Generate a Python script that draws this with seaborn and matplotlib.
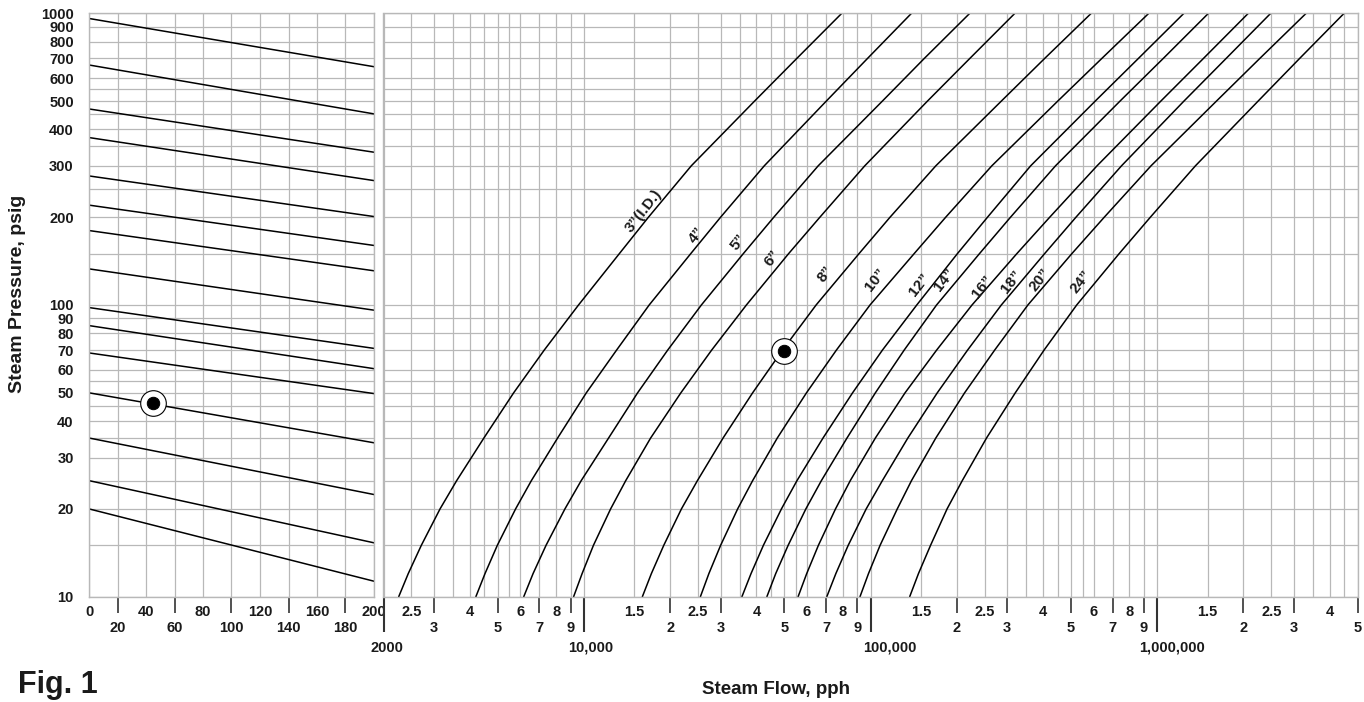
import numpy as np
import pandas as pd
import matplotlib
matplotlib.use("Agg")
import matplotlib.pyplot as plt
import matplotlib.transforms as mtrans
import seaborn as sns

# ---------------- data ----------------
# left panel: straight (semi-log) lines, pressure at x=0 and x=200
left_x = [0, 200]
left_start = [960, 665, 470, 375, 277, 220, 180, 133, 98, 85, 68.5, 50, 35, 25, 20]
left_end = [656, 452, 334, 267, 201, 160, 131, 96, 71, 60.5, 49.7, 33.7, 22.4, 15.3, 11.3]

# right panel: steam flow (pph) vs pressure (psig) per pipe size
pressures = [10, 12, 15, 20, 25, 35, 50, 70, 100, 150, 200, 300, 500, 700, 1000]
pipe_labels = ["3\u201d(I.D.)", "4\u201d", "5\u201d", "6\u201d", "8\u201d", "10\u201d",
               "12\u201d", "14\u201d", "16\u201d", "18\u201d", "20\u201d", "24\u201d"]
flow_3 = [2260, 2440, 2710, 3150, 3600, 4480, 5690, 7270, 9580, 13300, 16800, 23700, 39400, 55300, 79400]
flow_4 = [4200, 4520, 4990, 5780, 6560, 8100, 10200, 13000, 16900, 23600, 30000, 42600, 70100, 97600, 139000]
flow_5 = [6170, 6650, 7380, 8590, 9790, 12200, 15400, 19600, 25700, 36000, 46000, 65700, 110000, 154000, 222000]
flow_6 = [9210, 9860, 10800, 12400, 14000, 17100, 21800, 27900, 36900, 51800, 66600, 95500, 158000, 222000, 319000]
flow_8 = [16000, 17200, 19000, 21900, 24900, 30600, 38800, 49300, 64600, 91200, 117000, 169000, 286000, 405000, 589000]
flow_10 = [25500, 27300, 30000, 34400, 38800, 47300, 59800, 76000, 99600, 142000, 183000, 265000, 450000, 641000, 935000]
flow_12 = [35600, 38300, 42300, 48900, 55400, 68300, 86600, 110000, 145000, 201000, 256000, 362000, 608000, 860000, 1240000]
flow_14 = [43500, 46700, 51600, 59500, 67400, 82800, 104000, 131000, 170000, 240000, 308000, 442000, 742000, 1050000, 1510000]
flow_16 = [55900, 59900, 65800, 75500, 85000, 104000, 132000, 170000, 226000, 324000, 422000, 617000, 1030000, 1450000, 2080000]
flow_18 = [70400, 75700, 83600, 96600, 110000, 135000, 171000, 218000, 286000, 405000, 521000, 751000, 1240000, 1740000, 2490000]
flow_20 = [91900, 98400, 108000, 124000, 139000, 169000, 213000, 271000, 354000, 504000, 654000, 952000, 1610000, 2280000, 3310000]
flow_24 = [137000, 147000, 162000, 185000, 209000, 254000, 320000, 403000, 524000, 737000, 947000, 1360000, 2250000, 3140000, 4490000]
flows = [flow_3, flow_4, flow_5, flow_6, flow_8, flow_10, flow_12, flow_14,
         flow_16, flow_18, flow_20, flow_24]

# example points
left_point = (44.7, 46)
right_point = (50000, 69.5)

# axis ticks / labels
y_grid = [10, 15, 20, 25, 30, 35, 40, 45, 50, 55, 60, 70, 80, 90, 100,
          150, 200, 250, 300, 350, 400, 450, 500, 550, 600, 700, 800, 900, 1000]
y_labeled = [10, 20, 30, 40, 50, 60, 70, 80, 90, 100, 200, 300, 400, 500, 600, 700,
             800, 900, 1000]
left_row1 = [0, 40, 80, 120, 160, 200]
left_row2 = [20, 60, 100, 140, 180]
mant_grid = [1, 1.5, 2, 2.5, 3, 3.5, 4, 4.5, 5, 5.5, 6, 7, 8, 9]
flow_row1 = [2500, 4000, 6000, 8000, 15000, 25000, 40000, 60000, 80000,
             150000, 250000, 400000, 600000, 800000, 1500000, 2500000, 4000000]
flow_row1_text = ["2.5", "4", "6", "8", "1.5", "2.5", "4", "6", "8",
                  "1.5", "2.5", "4", "6", "8", "1.5", "2.5", "4"]
flow_row2 = [3000, 5000, 7000, 9000, 20000, 30000, 50000, 70000, 90000,
             200000, 300000, 500000, 700000, 900000, 2000000, 3000000, 5000000]
flow_row2_text = ["3", "5", "7", "9", "2", "3", "5", "7", "9",
                  "2", "3", "5", "7", "9", "2", "3", "5"]
flow_decades = [2000, 10000, 100000, 1000000]
flow_decade_text = ["2000", "10,000", "100,000", "1,000,000"]

# ---------------- style ----------------
sns.set_theme(style="white")
plt.rcParams["font.family"] = ["Liberation Sans", "DejaVu Sans"]
plt.rcParams["font.weight"] = "bold"

W, H = 1364, 702
fig = plt.figure(figsize=(W / 100, H / 100), dpi=100)
fig.patch.set_facecolor("white")

top_px, bot_px = 13.3, 596.7
TXT = "#1a1a1a"


def add_ax(x0, x1):
    return fig.add_axes([x0 / W, 1 - bot_px / H, (x1 - x0) / W, (bot_px - top_px) / H])


ax1 = add_ax(89, 374)
ax2 = add_ax(383.5, 1357.5)

GRID = "#b8b8b8"
for ax in (ax1, ax2):
    ax.set_yscale("log")
    ax.set_ylim(10, 1000)
    for s in ax.spines.values():
        s.set_color(GRID)
        s.set_linewidth(1.0)

# ---- left panel ----
rows = []
for i, (a, b) in enumerate(zip(left_start, left_end)):
    rows.append({"x": left_x[0], "p": a, "line": i})
    rows.append({"x": left_x[1], "p": b, "line": i})
dfl = pd.DataFrame(rows)
sns.lineplot(data=dfl, x="x", y="p", units="line", estimator=None, color="black",
             lw=1.1, ax=ax1, legend=False)
ax1.set_xlim(0, 200)
ax1.set_xticks(list(range(0, 201, 20)))
ax1.set_xticklabels([])
ax1.set_yticks(y_grid)
ax1.set_yticklabels([str(v) if v in y_labeled else "" for v in y_grid])
ax1.yaxis.set_minor_locator(matplotlib.ticker.NullLocator())
ax1.tick_params(axis="both", length=0)
ax1.tick_params(axis="y", pad=11, labelsize=10.5)
for lab in ax1.get_yticklabels():
    lab.set_fontweight("bold")
    lab.set_color(TXT)
ax1.grid(True, which="major", color=GRID, lw=0.9)
ax1.set_xlabel("")
ax1.set_ylabel("")

# ---- right panel ----
rows = []
for lab, fl in zip(pipe_labels, flows):
    for p, f in zip(pressures, fl):
        rows.append({"flow": f, "p": p, "pipe": lab})
dfr = pd.DataFrame(rows)
sns.lineplot(data=dfr, x="flow", y="p", units="pipe", estimator=None, color="black",
             lw=1.1, ax=ax2, legend=False, sort=False)
ax2.set_xscale("log")
ax2.set_xlim(2000, 5e6)
xgrid = [m * 10 ** k for k in range(3, 7) for m in mant_grid]
xgrid = [v for v in xgrid if 2000 <= v <= 5e6]
ax2.set_xticks(xgrid)
ax2.xaxis.set_minor_locator(matplotlib.ticker.NullLocator())
ax2.set_xticklabels([])
ax2.set_yticks(y_grid)
ax2.set_yticklabels([])
ax2.yaxis.set_minor_locator(matplotlib.ticker.NullLocator())
ax2.tick_params(axis="both", length=0)
ax2.grid(True, which="major", color=GRID, lw=0.9)
ax2.set_xlabel("")
ax2.set_ylabel("")

# curve labels
label_pos = [(16140, 210), (24820, 173), (34570, 164), (45290, 145), (69430, 128),
             (103700, 121.6), (148700, 117), (181700, 121.6), (246500, 115),
             (310200, 119.7), (389200, 121.6), (543700, 119.7)]
for lab, (fx, py) in zip(pipe_labels, label_pos):
    ax2.text(fx, py, lab, rotation=52, ha="center", va="center", fontsize=11,
             fontweight="bold", color=TXT, rotation_mode="anchor")

# example markers
for ax, (px, py) in ((ax1, left_point), (ax2, right_point)):
    sns.scatterplot(x=[px], y=[py], s=340, facecolor="white", edgecolor="black",
                    linewidth=0.8, ax=ax, zorder=5, legend=False)
    sns.scatterplot(x=[px], y=[py], s=80, color="black", edgecolor="black",
                    ax=ax, zorder=6, legend=False)

# ---- custom bottom scales ----
def fy(py):
    return 1 - py / H


TK = "#333333"
tr1 = mtrans.blended_transform_factory(ax1.transData, fig.transFigure)
tr2 = mtrans.blended_transform_factory(ax2.transData, fig.transFigure)

ax1.vlines(left_row2, fy(612.5), fy(bot_px), transform=tr1, colors=TK, lw=1.2,
           clip_on=False)
for v in left_row1:
    ax1.text(v, fy(611.5), str(v), transform=tr1, ha="center", va="center",
             fontsize=10.5, fontweight="bold", color=TXT)
for v in left_row2:
    ax1.text(v, fy(627.5), str(v), transform=tr1, ha="center", va="center",
             fontsize=10.5, fontweight="bold", color=TXT)

ax2.vlines(flow_row2, fy(612.5), fy(bot_px), transform=tr2, colors=TK, lw=1.2,
           clip_on=False)
ax2.vlines(flow_decades, fy(632), fy(bot_px), transform=tr2, colors=TK, lw=1.5,
           clip_on=False)
for v, t in zip(flow_row1, flow_row1_text):
    ax2.text(v, fy(611.5), t, transform=tr2, ha="center", va="center",
             fontsize=10.5, fontweight="bold", color=TXT)
for v, t in zip(flow_row2, flow_row2_text):
    ax2.text(v, fy(627.5), t, transform=tr2, ha="center", va="center",
             fontsize=10.5, fontweight="bold", color=TXT)
dec_offsets = [3, 7, 19, 15]
for v, t, off in zip(flow_decades, flow_decade_text, dec_offsets):
    ax2.annotate(t, xy=(v, fy(648)), xycoords=tr2, xytext=(off * 0.72, 0),
                 textcoords="offset points", ha="center", va="center",
                 fontsize=10.5, fontweight="bold", color=TXT,
                 annotation_clip=False)

# titles
fig.text(18 / W, fy(294), "Steam Pressure, psig", rotation=90, ha="center",
         va="center", fontsize=14, fontweight="bold", color=TXT)
fig.text(776 / W, fy(689), "Steam Flow, pph", ha="center", va="center",
         fontsize=13.5, fontweight="bold", color=TXT)
fig.text(18 / W, fy(685), "Fig. 1", ha="left", va="center", fontsize=22,
         fontweight="bold", color=TXT)

fig.savefig("out.png", dpi=100, facecolor="white")
